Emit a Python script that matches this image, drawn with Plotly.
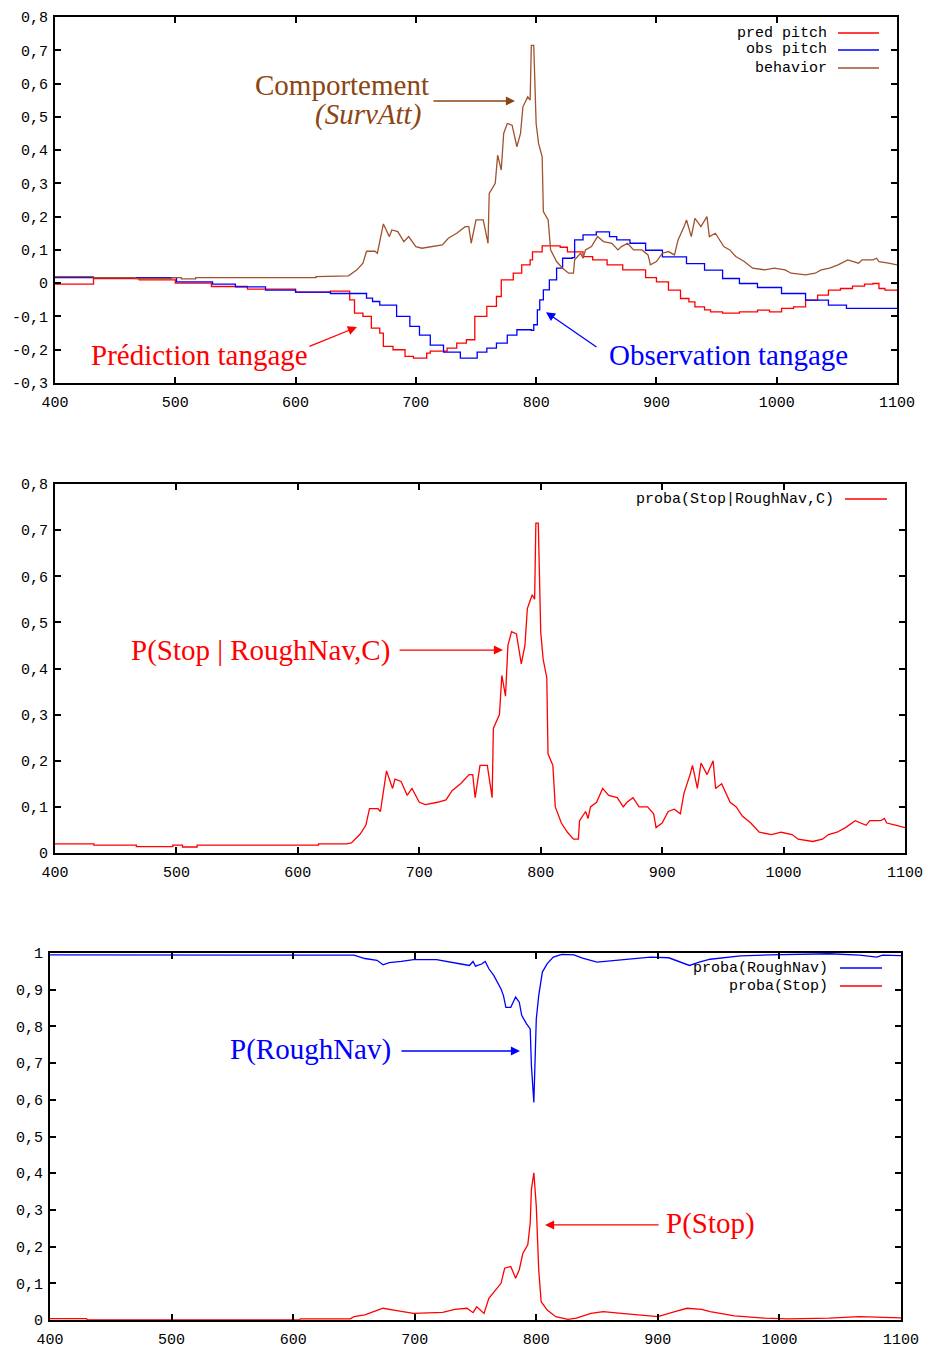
import plotly.graph_objects as go

# ---------------- data ----------------
# Panel 1: pitch prediction / observation, and behaviour (same as panel 2 curve)
pred_pitch_x = [400, 432, 432, 470, 500, 530, 560, 600, 629, 642, 645, 649, 656, 663, 670, 673, 681, 691, 698, 709,
                712, 726, 734, 742, 749, 759, 767, 771, 781, 788, 795, 797, 805, 820, 826, 839, 847, 859, 872, 891,
                900, 910, 920, 927, 932, 940, 945, 955, 969, 984, 994, 1004, 1014, 1024, 1034, 1043, 1053, 1063, 1073, 1080,
                1085, 1090, 1100]
pred_pitch_y = [-0.003, -0.003, 0.014, 0.01, 0.0, -0.01, -0.018, -0.027, -0.024, -0.024,
                -0.05, -0.09, -0.10, -0.135, -0.15, -0.19, -0.20, -0.22, -0.225, -0.21,
                -0.204, -0.195, -0.18, -0.17, -0.10, -0.07, -0.04, 0.01, 0.03, 0.055,
                0.07, 0.094, 0.112, 0.108, 0.094, 0.08, 0.07, 0.055, 0.04, 0.017,
                0.004, -0.021, -0.046, -0.056, -0.071, -0.08, -0.086, -0.09, -0.086, -0.081,
                -0.086, -0.076, -0.071, -0.051, -0.036, -0.021, -0.016, -0.009, -0.003, -0.001,
                -0.016, -0.021, -0.021]

obs_pitch_x = [400, 469, 501, 531, 550, 575, 600, 629, 656, 659, 664, 670, 684, 695, 703, 712, 723, 737, 745, 751,
               759, 767, 776, 784, 790, 796, 798, 801, 803, 806, 811, 817, 822, 830, 831, 832, 839, 850, 861, 867,
               878, 891, 905, 925, 940, 955, 969, 984, 1004, 1024, 1043, 1058, 1100]
obs_pitch_y = [0.017, 0.017, 0.004, -0.003, -0.011, -0.021, -0.027, -0.031, -0.031, -0.045,
               -0.055, -0.066, -0.10, -0.13, -0.156, -0.186, -0.207, -0.225, -0.225, -0.207,
               -0.195, -0.18, -0.156, -0.14, -0.14, -0.142, -0.125, -0.08, -0.05, -0.02,
               0.01, 0.045, 0.075, 0.077, 0.077, 0.13, 0.145, 0.154, 0.14, 0.13,
               0.12, 0.099, 0.079, 0.059, 0.039, 0.014, -0.001, -0.013, -0.031, -0.051,
               -0.066, -0.076, -0.076]

# Behaviour = proba(Stop | RoughNav, C)
behavior_x = [400, 432, 432, 467, 467, 497, 497, 505, 505, 517, 517, 617, 617, 640, 644, 651, 656, 659, 666, 668,
              673, 678, 680, 685, 690, 694, 700, 705, 715, 722, 727, 734, 741, 744, 746, 750, 756, 760, 761, 766,
              768, 771, 773, 776, 780, 784, 787, 789, 793, 795, 796, 798, 800, 802, 805, 806, 810, 812, 817, 822,
              827, 831, 832, 837, 839, 841, 846, 851, 856, 863, 868, 871, 876, 881, 888, 893, 895, 900, 905, 910,
              915, 918, 923, 925, 929, 932, 937, 942, 944, 949, 956, 961, 966, 973, 980, 990, 998, 1007, 1012, 1024,
              1032, 1037, 1044, 1051, 1059, 1068, 1071, 1080, 1083, 1085, 1093, 1100]
behavior_y = [0.02, 0.02, 0.017, 0.017, 0.014, 0.014, 0.017, 0.017, 0.013, 0.013,
              0.017, 0.017, 0.02, 0.02, 0.022, 0.04, 0.06, 0.096, 0.096, 0.09,
              0.178, 0.14, 0.16, 0.155, 0.125, 0.14, 0.11, 0.105, 0.11, 0.115,
              0.135, 0.15, 0.17, 0.17, 0.12, 0.19, 0.19, 0.12, 0.27, 0.30,
              0.385, 0.34, 0.45, 0.48, 0.475, 0.41, 0.45, 0.53, 0.56, 0.55,
              0.715, 0.715, 0.48, 0.42, 0.38, 0.215, 0.19, 0.10, 0.065, 0.045,
              0.03, 0.03, 0.07, 0.09, 0.075, 0.1, 0.11, 0.14, 0.125, 0.12,
              0.1, 0.11, 0.12, 0.1, 0.1, 0.085, 0.055, 0.065, 0.09, 0.095,
              0.085, 0.13, 0.17, 0.19, 0.14, 0.195, 0.17, 0.2, 0.14, 0.15,
              0.11, 0.1, 0.08, 0.065, 0.045, 0.04, 0.045, 0.04, 0.03, 0.025,
              0.03, 0.04, 0.045, 0.055, 0.07, 0.06, 0.07, 0.07, 0.075, 0.065,
              0.06, 0.055]

# Panel 3
roughnav_x = [400, 645, 650, 659, 669, 674, 679, 689, 699, 718, 728, 738, 745, 748, 750, 755, 758, 761, 765, 768,
              771, 773, 775, 779, 783, 786, 788, 792, 795, 796, 797, 798, 800, 802, 805, 809, 814, 821, 831, 838,
              850, 865, 880, 894, 909, 919, 926, 934, 943, 968, 992, 1041, 1066, 1080, 1085, 1100]
roughnav_y = [0.995, 0.995, 0.994, 0.985, 0.98, 0.968, 0.974, 0.977, 0.982, 0.982,
              0.975, 0.97, 0.966, 0.977, 0.964, 0.97, 0.977, 0.957, 0.939, 0.921,
              0.902, 0.884, 0.852, 0.852, 0.88, 0.866, 0.83, 0.807, 0.793, 0.693,
              0.629, 0.593, 0.82, 0.884, 0.948, 0.971, 0.989, 0.996, 0.995, 0.986,
              0.975, 0.98, 0.983, 0.989, 0.987, 0.975, 0.966, 0.975, 0.983, 0.992,
              0.995, 0.998, 0.994, 0.989, 0.994, 0.993]

stop_x = [400, 430, 431, 605, 606, 647, 650, 659, 669, 674, 684, 699, 723, 733, 743, 748, 751, 757, 761, 767,
          771, 774, 779, 783, 786, 789, 793, 795, 796, 798, 800, 802, 804, 809, 816, 826, 833, 845, 855, 870,
          885, 900, 914, 924, 936, 943, 963, 988, 1007, 1041, 1066, 1100]
stop_y = [0.004, 0.004, 0.0, 0.0, 0.003, 0.003, 0.009, 0.014, 0.026, 0.032,
          0.026, 0.018, 0.021, 0.029, 0.032, 0.02, 0.036, 0.018, 0.059, 0.082,
          0.1, 0.141, 0.146, 0.114, 0.137, 0.182, 0.205, 0.264, 0.356, 0.401,
          0.31, 0.137, 0.05, 0.027, 0.009, 0.002, 0.005, 0.018, 0.023, 0.018,
          0.014, 0.009, 0.023, 0.032, 0.029, 0.023, 0.011, 0.005, 0.003, 0.005,
          0.009, 0.006]

x_ticks = [400, 500, 600, 700, 800, 900, 1000, 1100]
x_ticklabels = ["400", "500", "600", "700", "800", "900", "1000", "1100"]
y1_ticks = [-0.3, -0.2, -0.1, 0, 0.1, 0.2, 0.3, 0.4, 0.5, 0.6, 0.7, 0.8]
y1_ticklabels = ["-0,3", "-0,2", "-0,1", "0", "0,1", "0,2", "0,3", "0,4", "0,5", "0,6", "0,7", "0,8"]
y2_ticks = [0, 0.1, 0.2, 0.3, 0.4, 0.5, 0.6, 0.7, 0.8]
y2_ticklabels = ["0", "0,1", "0,2", "0,3", "0,4", "0,5", "0,6", "0,7", "0,8"]
y3_ticks = [0, 0.1, 0.2, 0.3, 0.4, 0.5, 0.6, 0.7, 0.8, 0.9, 1]
y3_ticklabels = ["0", "0,1", "0,2", "0,3", "0,4", "0,5", "0,6", "0,7", "0,8", "0,9", "1"]

# ---------------- styling ----------------
W, H = 928, 1351
RED = "#ff0000"
BLUE = "#0000ff"
BROWN = "#a0522d"
BROWN_TXT = "#8b4513"
GP_FONT = dict(family="Liberation Mono", size=15, color="black")
SERIF = "Liberation Serif"


def px_x(p):
    return p / W


def px_y(p):
    return 1 - p / H


panels = {
    1: dict(x=(55, 897), y=(17, 383), yr=[-0.3, 0.8], yt=(y1_ticks, y1_ticklabels)),
    2: dict(x=(55, 905), y=(484, 853), yr=[0, 0.8], yt=(y2_ticks, y2_ticklabels)),
    3: dict(x=(50, 901), y=(953, 1320), yr=[0, 1], yt=(y3_ticks, y3_ticklabels)),
}

fig = go.Figure()

traces = [
    (1, pred_pitch_x, pred_pitch_y, RED, "pred pitch", "hv"),
    (1, obs_pitch_x, obs_pitch_y, BLUE, "obs pitch", "hv"),
    (1, behavior_x, behavior_y, BROWN, "behavior", "linear"),
    (2, behavior_x, behavior_y, RED, "proba(Stop|RoughNav,C)", "linear"),
    (3, roughnav_x, roughnav_y, BLUE, "proba(RoughNav)", "linear"),
    (3, stop_x, stop_y, RED, "proba(Stop)", "linear"),
]
for k, xs, ys, col, name, shape in traces:
    sfx = "" if k == 1 else str(k)
    fig.add_trace(go.Scatter(x=xs, y=ys, mode="lines", name=name,
                             line=dict(color=col, width=1.3, shape=shape),
                             xaxis="x" + sfx, yaxis="y" + sfx, showlegend=False))

layout = dict(width=W, height=H, autosize=False, margin=dict(l=0, r=0, t=0, b=0, pad=0),
              plot_bgcolor="white", paper_bgcolor="white", showlegend=False)

for k, p in panels.items():
    sfx = "" if k == 1 else str(k)
    common = dict(showline=True, linecolor="black", linewidth=2, mirror="allticks",
                  ticks="inside", ticklen=6, tickwidth=2, tickcolor="black",
                  showgrid=False, zeroline=False, tickfont=GP_FONT, automargin=False)
    layout["xaxis" + sfx] = dict(common, domain=[px_x(p["x"][0]), px_x(p["x"][1])],
                                 range=[400, 1100], tickmode="array",
                                 tickvals=x_ticks, ticktext=x_ticklabels,
                                 anchor="y" + sfx, ticklabelstandoff=4)
    layout["yaxis" + sfx] = dict(common, domain=[px_y(p["y"][1]), px_y(p["y"][0])],
                                 range=p["yr"], tickmode="array",
                                 tickvals=p["yt"][0], ticktext=p["yt"][1],
                                 anchor="x" + sfx, ticklabelstandoff=2)

fig.update_layout(**layout)

# ---------------- legends (gnuplot style: text then line sample) ----------------
legend_items = [
    # (text, color, text right px, line x0, line x1, y px)
    ("pred pitch", RED, 829, 838, 879, 33),
    ("obs pitch", BLUE, 829, 838, 879, 50),
    ("behavior", BROWN, 829, 838, 879, 68),
    ("proba(Stop|RoughNav,C)", RED, 836, 845, 887, 499),
    ("proba(RoughNav)", BLUE, 830, 840, 882, 968),
    ("proba(Stop)", RED, 830, 840, 882, 986),
]
for txt, col, xr, l0, l1, yy in legend_items:
    fig.add_annotation(text=txt, xref="paper", yref="paper", x=px_x(xr), y=px_y(yy),
                       xanchor="right", yanchor="middle", showarrow=False, font=GP_FONT)
    fig.add_shape(type="line", xref="paper", yref="paper", x0=px_x(l0), x1=px_x(l1),
                  y0=px_y(yy), y1=px_y(yy), line=dict(color=col, width=1.3))

# ---------------- text labels with arrows ----------------
labels = [
    # (text, color, x, y, axis suffix, italic)
    ("Comportement", BROWN_TXT, 638.6, 0.596, "", False),
    ("(SurvAtt)", BROWN_TXT, 660.0, 0.508, "", True),
    ("Prédiction tangage", RED, 520.5, -0.216, "", False),
    ("Observation tangage", BLUE, 959.5, -0.216, "", False),
    ("P(Stop | RoughNav,C)", RED, 569.6, 0.44, "2", False),
    ("P(RoughNav)", BLUE, 613.9, 0.736, "3", False),
    ("P(Stop)", RED, 943.7, 0.262, "3", False),
]
for txt, col, x, y, sfx, it in labels:
    fig.add_annotation(text=txt, x=x, y=y, xref="x" + sfx, yref="y" + sfx, showarrow=False,
                       xanchor="center", yanchor="middle",
                       font=dict(family=SERIF, size=29, color=col,
                                 style="italic" if it else "normal"))

arrows = [
    # (head x, head y, tail x, tail y, color, axis suffix)
    (782.4, 0.5475, 713.4, 0.5475, BROWN_TXT, ""),
    (651.0, -0.132, 610.3, -0.192, RED, ""),
    (808.2, -0.087, 851.4, -0.195, BLUE, ""),
    (768.9, 0.44, 682.5, 0.44, RED, "2"),
    (786.6, 0.733, 687.9, 0.733, BLUE, "3"),
    (807.2, 0.259, 901.8, 0.259, RED, "3"),
]
for hx, hy, tx, ty, col, sfx in arrows:
    fig.add_annotation(text="", x=hx, y=hy, ax=tx, ay=ty, xref="x" + sfx, yref="y" + sfx,
                       axref="x" + sfx, ayref="y" + sfx, showarrow=True, arrowhead=2,
                       arrowsize=1.4, arrowwidth=1.3, arrowcolor=col)

fig.write_html("out.html", config={"displayModeBar": False},
               post_script="document.body.style.margin='0';document.body.style.overflow='hidden';")
